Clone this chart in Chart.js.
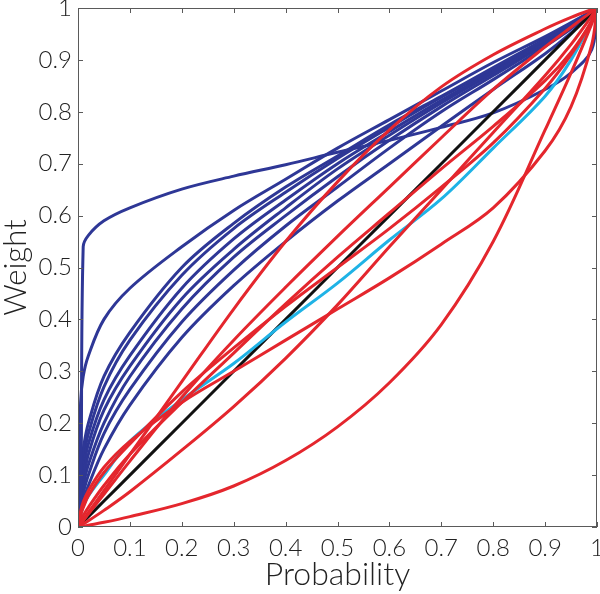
<!DOCTYPE html>
<html>
<head>
<meta charset="utf-8">
<script src="https://cdn.jsdelivr.net/npm/chart.js@4.4.1/dist/chart.umd.min.js"></script>
<style>
  html, body { margin: 0; padding: 0; background: #fff; }
</style>
</head>
<body>
<canvas id="myChart" width="600" height="594"></canvas>
<script>
// probability grid shared by every curve
const probs = [0, 0.005, 0.01, 0.02, 0.05, 0.1, 0.2, 0.3, 0.4, 0.5, 0.6, 0.7, 0.8, 0.9, 0.95, 0.99, 1];

// blue curves
const blue1 = [0, 0.02, 0.54, 0.562, 0.59, 0.615, 0.651, 0.676, 0.698, 0.722, 0.745, 0.77, 0.798, 0.843, 0.875, 0.92, 1];
const blue2 = [0, 0.24, 0.29, 0.33, 0.40, 0.46, 0.54, 0.61, 0.67, 0.73, 0.785, 0.84, 0.895, 0.945, 0.972, 0.994, 1];
const blue3 = [0, 0.11, 0.15, 0.2, 0.29, 0.375, 0.50, 0.585, 0.655, 0.715, 0.775, 0.83, 0.885, 0.94, 0.968, 0.993, 1];
const blue4 = [0, 0.09, 0.13, 0.18, 0.27, 0.36, 0.485, 0.575, 0.645, 0.71, 0.77, 0.828, 0.882, 0.938, 0.967, 0.993, 1];
const blue5 = [0, 0.07, 0.11, 0.16, 0.245, 0.33, 0.46, 0.555, 0.63, 0.70, 0.762, 0.822, 0.878, 0.935, 0.965, 0.993, 1];
const blue6 = [0, 0.06, 0.09, 0.14, 0.225, 0.31, 0.44, 0.535, 0.615, 0.69, 0.755, 0.817, 0.875, 0.933, 0.964, 0.992, 1];
const blue7 = [0, 0.05, 0.08, 0.12, 0.20, 0.29, 0.42, 0.52, 0.60, 0.675, 0.745, 0.81, 0.87, 0.93, 0.962, 0.992, 1];
const blue8 = [0, 0.04, 0.065, 0.10, 0.18, 0.265, 0.395, 0.495, 0.58, 0.655, 0.73, 0.80, 0.862, 0.926, 0.96, 0.992, 1];
const blue9 = [0, 0.03, 0.05, 0.08, 0.15, 0.235, 0.365, 0.465, 0.55, 0.628, 0.70, 0.772, 0.843, 0.912, 0.952, 0.99, 1];

// red curves
const redA = [0, 0.007, 0.014, 0.028, 0.07, 0.14, 0.28, 0.42, 0.55, 0.665, 0.765, 0.848, 0.91, 0.96, 0.982, 0.997, 1];
const redB = [0, 0.006, 0.012, 0.025, 0.063, 0.127, 0.25, 0.36, 0.462, 0.56, 0.655, 0.75, 0.843, 0.925, 0.963, 0.993, 1];
const redC = [0, 0.022, 0.037, 0.06, 0.105, 0.16, 0.26, 0.345, 0.425, 0.50, 0.575, 0.655, 0.74, 0.845, 0.91, 0.975, 1];
const redD = [0, 0.012, 0.022, 0.038, 0.08, 0.14, 0.24, 0.335, 0.43, 0.52, 0.605, 0.69, 0.772, 0.86, 0.915, 0.975, 1];
const redE = [0, 0.003, 0.006, 0.012, 0.032, 0.068, 0.148, 0.232, 0.325, 0.428, 0.54, 0.65, 0.76, 0.87, 0.93, 0.985, 1];
const redS = [0, 0.03, 0.048, 0.07, 0.115, 0.165, 0.24, 0.30, 0.36, 0.42, 0.48, 0.545, 0.615, 0.725, 0.81, 0.93, 1];
const redLow = [0, 0.0008, 0.0016, 0.0035, 0.009, 0.02, 0.045, 0.079, 0.128, 0.193, 0.278, 0.39, 0.55, 0.765, 0.875, 0.97, 1];

// cyan and black
const cyan = [0, 0.022, 0.04, 0.06, 0.10, 0.165, 0.245, 0.315, 0.395, 0.47, 0.553, 0.632, 0.73, 0.83, 0.9, 0.975, 1];
const diag = [0, 0.005, 0.01, 0.02, 0.05, 0.1, 0.2, 0.3, 0.4, 0.5, 0.6, 0.7, 0.8, 0.9, 0.95, 0.99, 1];

const tickVals = [0, 0.1, 0.2, 0.3, 0.4, 0.5, 0.6, 0.7, 0.8, 0.9, 1];
const tickLabels = ["0", "0.1", "0.2", "0.3", "0.4", "0.5", "0.6", "0.7", "0.8", "0.9", "1"];

const BLUE = "#2e3796";
const RED = "#e4262d";
const CYAN = "#1fb3e6";
const BLACK = "#111111";
const AXIS = "#5a5a5a";
const FONT = "Lato, 'Liberation Sans', sans-serif";

function makeSet(values, color, order) {
    return {
        data: probs.map((p, i) => ({ x: p, y: values[i] })), // pair up with grid
        borderColor: color,
        borderWidth: 3,
        pointRadius: 0,
        tension: 0.35,
        order: order
    };
}

const datasets = [];
[blue1, blue2, blue3, blue4, blue5, blue6, blue7, blue8, blue9].forEach(v => datasets.push(makeSet(v, BLUE, 3)));
datasets.push(makeSet(diag, BLACK, 2));
datasets.push(makeSet(cyan, CYAN, 1));
[redA, redB, redC, redD, redE, redS, redLow].forEach(v => datasets.push(makeSet(v, RED, 0)));

// box round the plot with ticks pointing inwards
const boxTicks = {
    id: "boxTicks",
    afterDraw(chart) {
        const ctx = chart.ctx;
        const a = chart.chartArea;
        const xs = chart.scales.x;
        const ys = chart.scales.y;
        ctx.save();
        ctx.strokeStyle = AXIS;
        ctx.lineWidth = 1;
        ctx.strokeRect(a.left + 0.5, a.top + 0.5, a.right - a.left - 1, a.bottom - a.top - 1);
        ctx.beginPath();
        tickVals.forEach(v => {
            const x = Math.round(xs.getPixelForValue(v)) + 0.5;
            ctx.moveTo(x, a.bottom); ctx.lineTo(x, a.bottom - 5);
            ctx.moveTo(x, a.top); ctx.lineTo(x, a.top + 5);
            const y = Math.round(ys.getPixelForValue(v)) + 0.5;
            ctx.moveTo(a.left, y); ctx.lineTo(a.left + 5, y);
            ctx.moveTo(a.right, y); ctx.lineTo(a.right - 5, y);
        });
        ctx.stroke();
        ctx.restore();
    }
};

const ctx = document.getElementById("myChart");
new Chart(ctx, {
    type: "line",
    data: { datasets: datasets },
    options: {
        responsive: false,
        animation: false,
        devicePixelRatio: 1,
        layout: { padding: { top: 8, right: 3, left: 0, bottom: 0 } },
        plugins: { legend: { display: false }, tooltip: { enabled: false } },
        scales: {
            x: {
                type: "linear",
                min: 0, max: 1,
                afterBuildTicks: s => { s.ticks = tickVals.map(v => ({ value: v })); },
                afterFit: s => { s.height = 67; s.paddingLeft = 0; s.paddingRight = 0; },
                grid: { display: false, drawTicks: false },
                border: { display: false },
                ticks: {
                    padding: 7,
                    maxRotation: 0,
                    autoSkip: false,
                    color: "#222",
                    font: { family: FONT, size: 24, weight: 300 },
                    callback: (v, i) => tickLabels[i]
                },
                title: {
                    display: true,
                    text: "Probability",
                    color: "#222",
                    font: { family: FONT, size: 32, weight: 300 },
                    padding: { top: 0, bottom: 0 }
                }
            },
            y: {
                type: "linear",
                min: 0, max: 1,
                afterBuildTicks: s => { s.ticks = tickVals.map(v => ({ value: v })); },
                afterFit: s => { s.width = 78; s.paddingTop = 0; s.paddingBottom = 0; },
                grid: { display: false, drawTicks: false },
                border: { display: false },
                ticks: {
                    padding: 6,
                    autoSkip: false,
                    color: "#222",
                    font: { family: FONT, size: 24, weight: 300 },
                    callback: (v, i) => tickLabels[i]
                },
                title: {
                    display: true,
                    text: "Weight",
                    color: "#222",
                    font: { family: FONT, size: 31, weight: 300 },
                    padding: { top: -3, bottom: 0 }
                }
            }
        }
    },
    plugins: [boxTicks]
});
</script>
</body>
</html>
